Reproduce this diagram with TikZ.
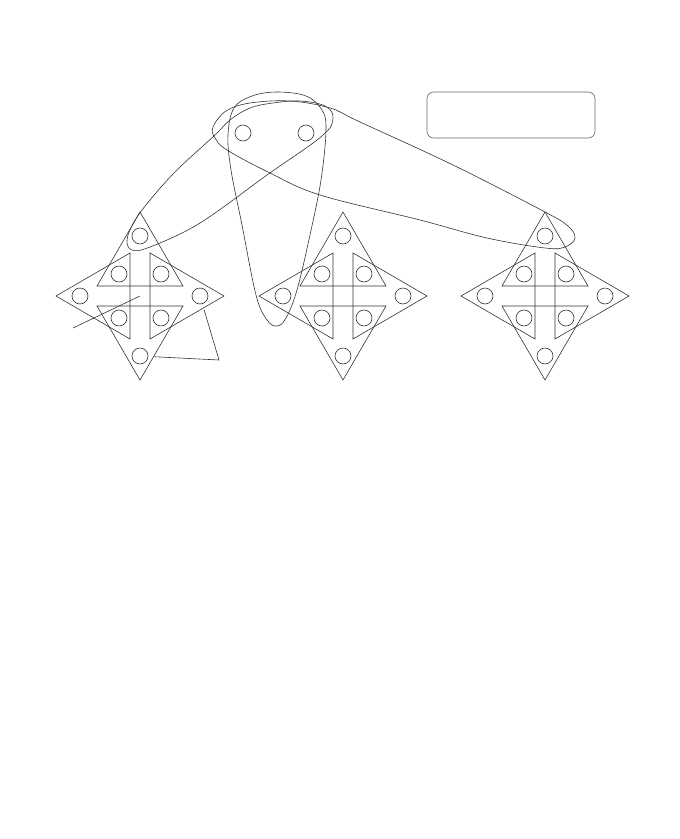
\documentclass[tikz,border=0pt]{standalone}
\usepackage{xcolor}
\usepackage{tikz}
\usetikzlibrary{calc}

\tikzset{
  dot/.style={circle,draw=black!80,minimum size=12pt,inner sep=0pt},
  hull/.style={draw=black!80,smooth cycle,tension=0.6},
}

\begin{document}
\begin{tikzpicture}[x=0.75pt,y=-0.75pt,line width=0.45pt]
\useasboundingbox (0,0) rectangle (679,839);
\draw[black!60,rounded corners=5pt] (427,92) rectangle (595,138);
\node[dot] (ta) at (243,133) {};
\node[dot] (tb) at (306,133) {};
\foreach \n/\cx in {1/140,2/343,3/545} {
  \begin{scope}[shift={(\cx,296)},draw=black!80]
  \draw (0,-84) -- (-43,-10) -- (43,-10) -- cycle;
  \draw (0,84) -- (-43,10) -- (43,10) -- cycle;
  \draw (-84,0) -- (-10,-43) -- (-10,43) -- cycle;
  \draw (84,0) -- (10,-43) -- (10,43) -- cycle;
  \coordinate (s\n-c) at (0,0);
  \node[dot] (s\n-t) at (0,-60) {};
  \node[dot] (s\n-b) at (0,60) {};
  \node[dot] (s\n-l) at (-60,0) {};
  \node[dot] (s\n-r) at (60,0) {};
  \node[dot] (s\n-tl) at (-21,-22) {};
  \node[dot] (s\n-tr) at (21,-22) {};
  \node[dot] (s\n-bl) at (-21,22) {};
  \node[dot] (s\n-br) at (21,22) {};
  \end{scope}
}
% hyperedges
\draw[black!80] plot[smooth cycle,tension=0.6] coordinates {(277,92) (306,96) (322,110) (326,130) (321,180) (310,235) (297,290) (286,318) (277,326) (267,320) (256,295) (242,225) (231,170) (228,135) (234,108) (252,96)};
\draw[black!80] plot[smooth cycle,tension=0.6] coordinates {(213,127) (226,111) (250,103) (290,101) (330,108) (360,122) (453,165) (545,212) (568,226) (575,238) (565,247) (545,248) (487,238) (420,220) (320,195) (270,173) (227,150) (215,138)};
\draw[black!80] plot[smooth cycle,tension=0.6] coordinates {(150,200) (134,222) (127,240) (132,250) (150,247) (200,223) (267,175) (322,136) (333,118) (325,106) (300,101) (273,103) (250,108) (230,120) (215,135) (177,170)};
% loose edges
\coordinate (s1-k) at (219,360);
\coordinate (s1-x) at (73,328);
\draw[black!80] (s1-x) -- (s1-c);
\draw[black!80,shorten <=4.5pt,shorten >=4.5pt] (s1-b) -- (s1-k) -- (s1-r);
\end{tikzpicture}
\end{document}
